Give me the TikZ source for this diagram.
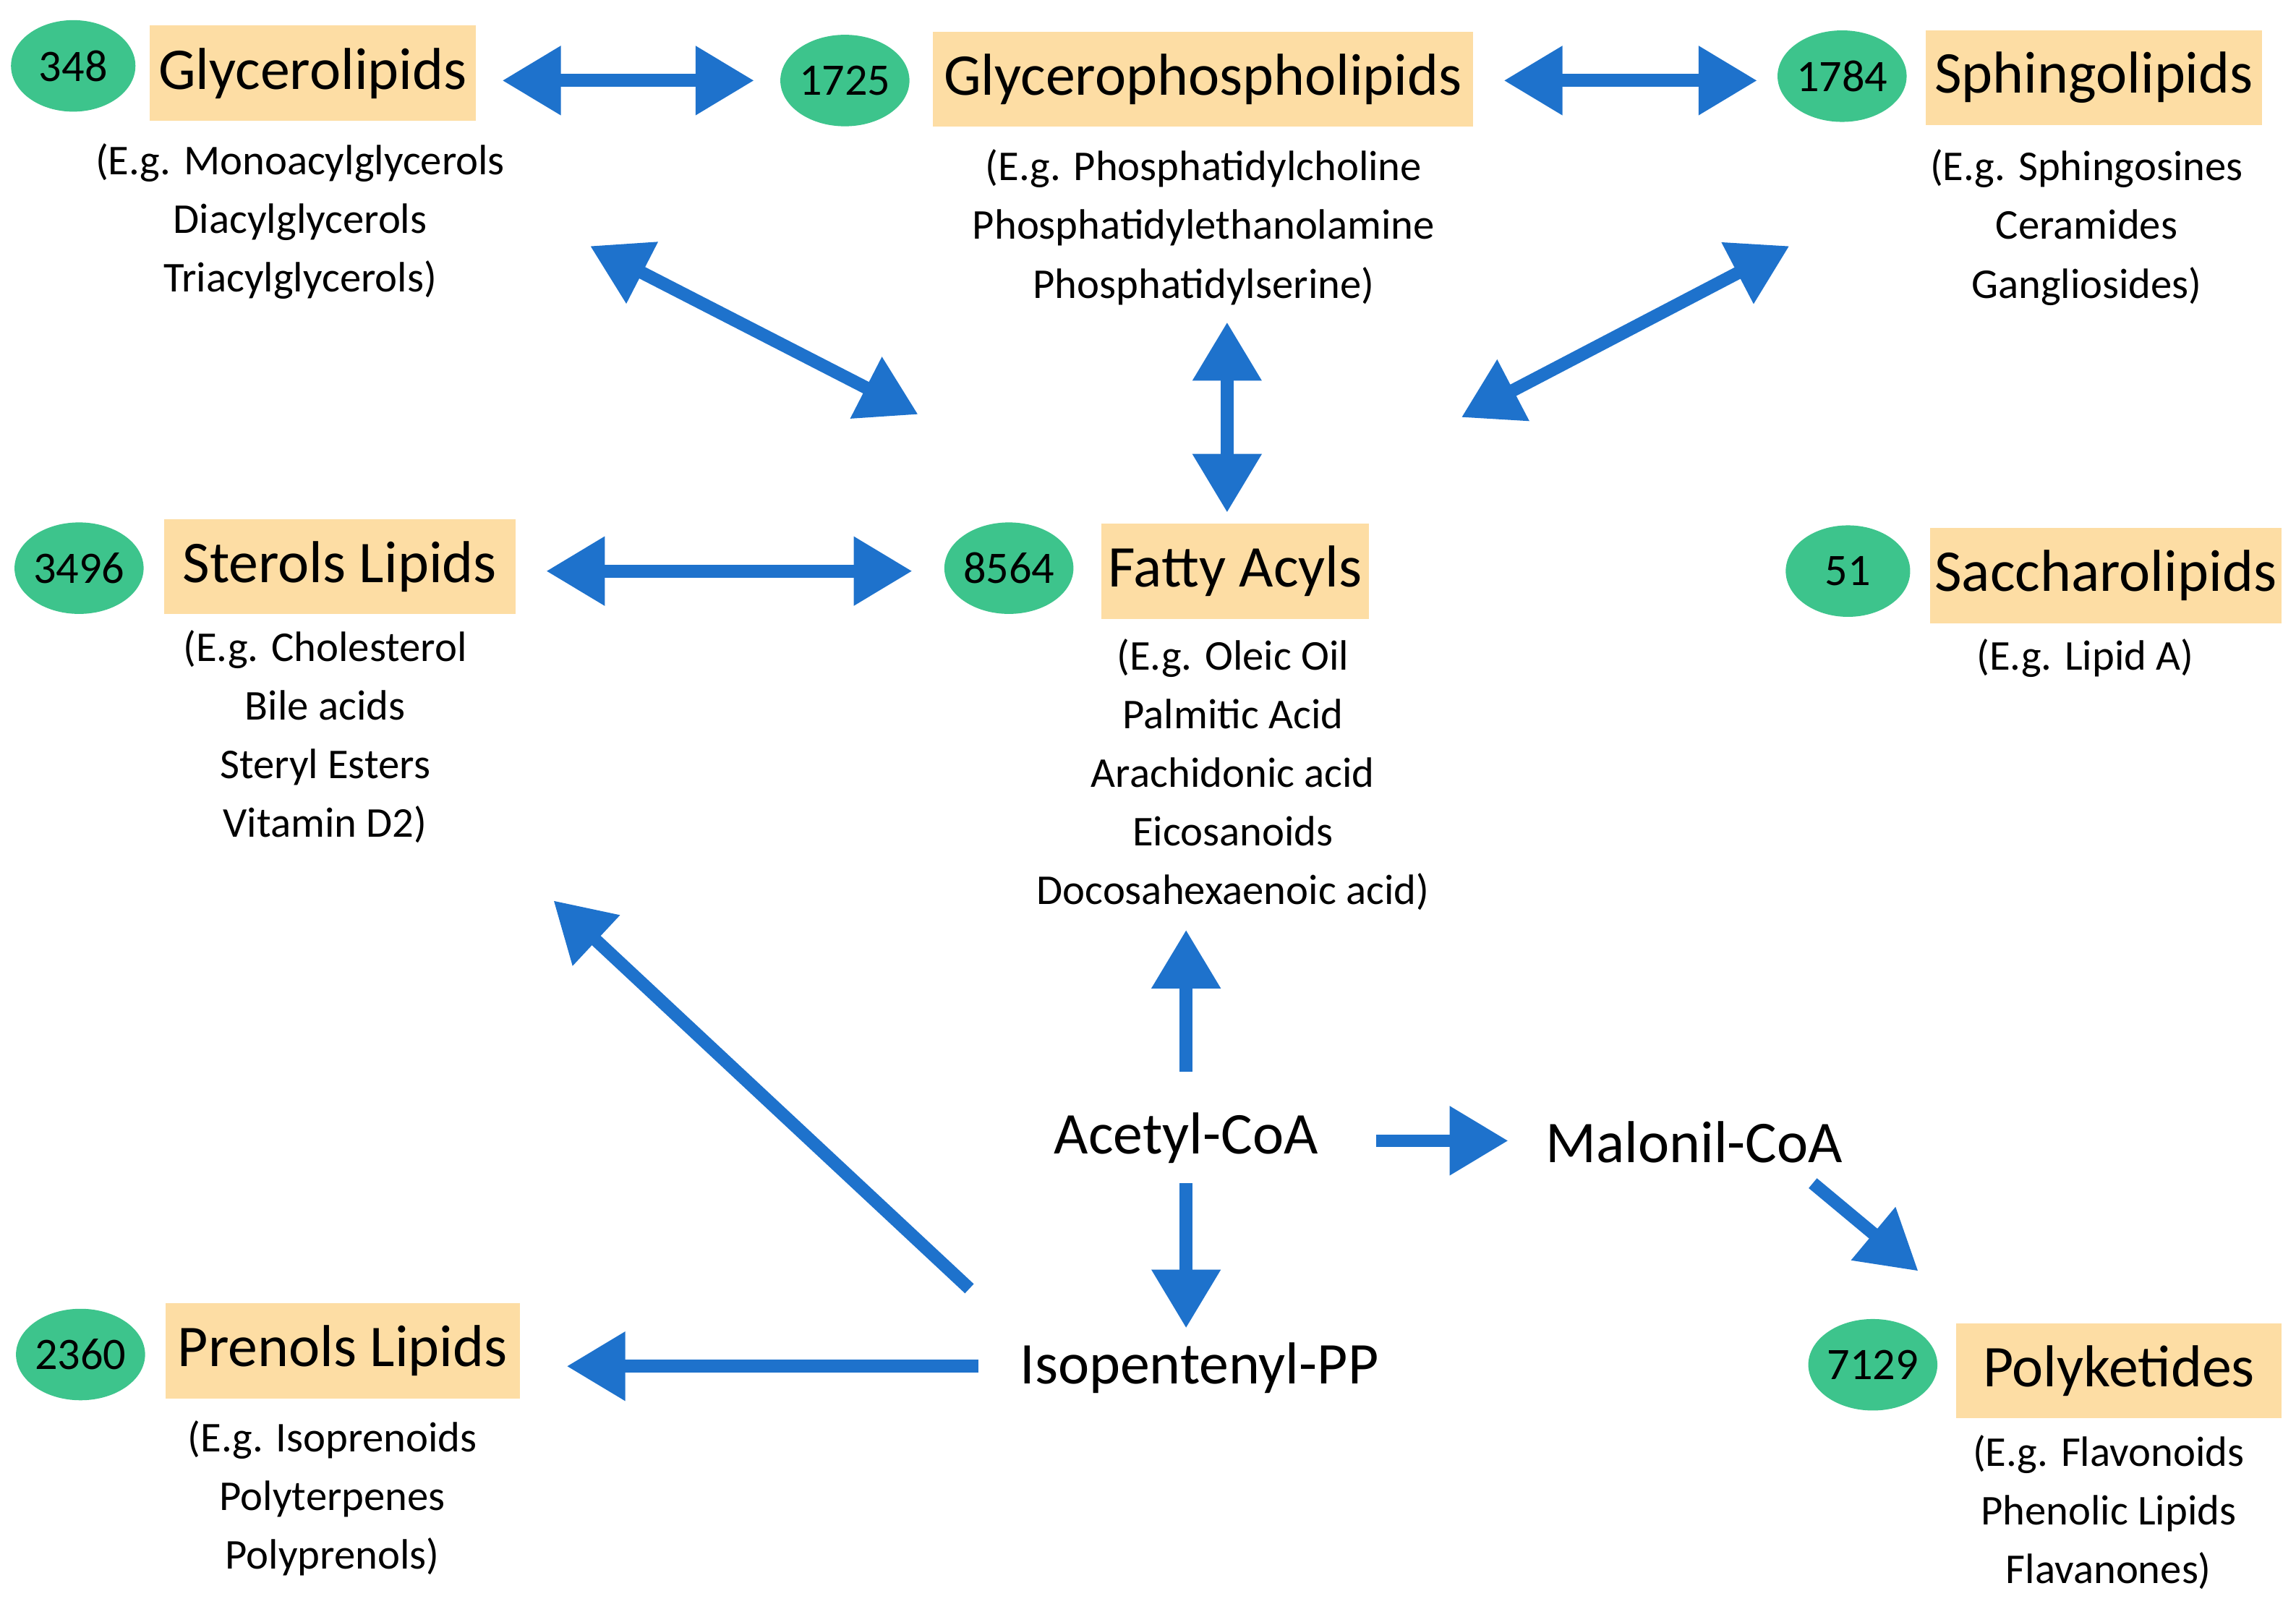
\documentclass[tikz,border=0pt]{standalone}
\usepackage{fontspec}
\setmainfont{Carlito}
\usetikzlibrary{shapes.geometric,arrows.meta}
\definecolor{ell}{HTML}{3DC48C}
\definecolor{box}{HTML}{FDDDA4}
\definecolor{arr}{HTML}{1E72CC}
\begin{document}
\begin{tikzpicture}[x=0.02cm,y=-0.02cm,
 num/.style={ellipse,fill=ell,minimum width=1.7cm,minimum height=1.25cm,inner sep=0pt,font=\fontsize{17.5}{18}\selectfont},
 cls/.style={fill=box,inner sep=0pt,minimum height=1.3cm,font=\fontsize{23}{24}\selectfont},
 sub/.style={align=center,font=\fontsize{16.5}{22.8}\selectfont},
 mid/.style={font=\fontsize{23}{24}\selectfont},
 ar/.style={arr,line width=5pt,-{Triangle[length=0.8cm,width=0.9cm]}},
 dar/.style={arr,line width=5pt,{Triangle[length=0.8cm,width=0.9cm]}-{Triangle[length=0.8cm,width=0.9cm]}}]
\useasboundingbox (0,0) rectangle (1568,1095);
\node[num] (n348) at (50,45) {348};
\node[cls,minimum width=4.46cm] (gl) at (213.5,50) {Glycerolipids};
\node[sub,anchor=north] (gls) at (205,92) {(E.g. Monoacylglycerols\\Diacylglycerols\\Triacylglycerols)};
\node[num] (n1725) at (577,55) {1725};
\node[cls,minimum width=7.38cm] (gp) at (821.5,54) {Glycerophospholipids};
\node[sub,anchor=north] (gps) at (822,96) {(E.g. Phosphatidylcholine\\Phosphatidylethanolamine\\Phosphatidylserine)};
\node[num] (n1784) at (1258,52) {1784};
\node[cls,minimum width=4.6cm] (sp) at (1430,53) {Sphingolipids};
\node[sub,anchor=north] (sps) at (1425,96) {(E.g. Sphingosines\\Ceramides\\Gangliosides)};
\node[num] (n3496) at (54,388) {3496};
\node[cls,minimum width=4.8cm] (st) at (232,387) {Sterols Lipids};
\node[sub,anchor=north] (sts) at (222,424) {(E.g. Cholesterol\\Bile acids\\Steryl Esters\\Vitamin D2)};
\node[num] (n8564) at (689,388) {8564};
\node[cls,minimum width=3.66cm] (fa) at (843.5,390) {Fatty Acyls};
\node[sub,anchor=north] (fas) at (842,430) {(E.g. Oleic Oil\\Palmitic Acid\\Arachidonic acid\\Eicosanoids\\Docosahexaenoic acid)};
\node[num] (n51) at (1262,390) {51};
\node[cls,minimum width=4.8cm] (sa) at (1438,393) {Saccharolipids};
\node[sub,anchor=north] (sas) at (1424,430) {(E.g. Lipid A)};
\node[num] (n2360) at (55,925) {2360};
\node[cls,minimum width=4.84cm] (pr) at (234,922.5) {Prenols Lipids};
\node[sub,anchor=north] (prs) at (227,964) {(E.g. Isoprenoids\\Polyterpenes\\Polyprenols)};
\node[num] (n7129) at (1279,932) {7129};
\node[cls,minimum width=4.44cm] (pk) at (1447,936) {Polyketides};
\node[sub,anchor=north] (pks) at (1440,974) {(E.g. Flavonoids\\Phenolic Lipids\\Flavanones)};
\node[mid] (ac) at (810,777) {Acetyl-CoA};
\node[mid] (ma) at (1157,780) {Malonil-CoA};
\node[mid] (ip) at (819,934) {Isopentenyl-PP};
\foreach \n/\x/\y in {a1/343/55,a2/515/55,b1/1027/55,b2/1200/55,c1/403/168,c2/627/283,d1/838/220,d2/838/350,
 e1/1222/168,e2/998/285,f1/373/390,f2/623/390,g1/810/732,g2/810/635,h1/940/779,h2/1030/779,i1/810/808,i2/810/907,
 j1/1238/808,j2/1310/868,k1/662/880,k2/378/615,l1/668/933,l2/387/933}
  \coordinate (\n) at (\x,\y);
\draw[dar] (a1) -- (a2);
\draw[dar] (b1) -- (b2);
\draw[dar] (c1) -- (c2);
\draw[dar] (d1) -- (d2);
\draw[dar] (e1) -- (e2);
\draw[dar] (f1) -- (f2);
\draw[ar] (g1) -- (g2);
\draw[ar] (h1) -- (h2);
\draw[ar] (i1) -- (i2);
\draw[ar] (j1) -- (j2);
\draw[ar] (k1) -- (k2);
\draw[ar] (l1) -- (l2);
\end{tikzpicture}
\end{document}
